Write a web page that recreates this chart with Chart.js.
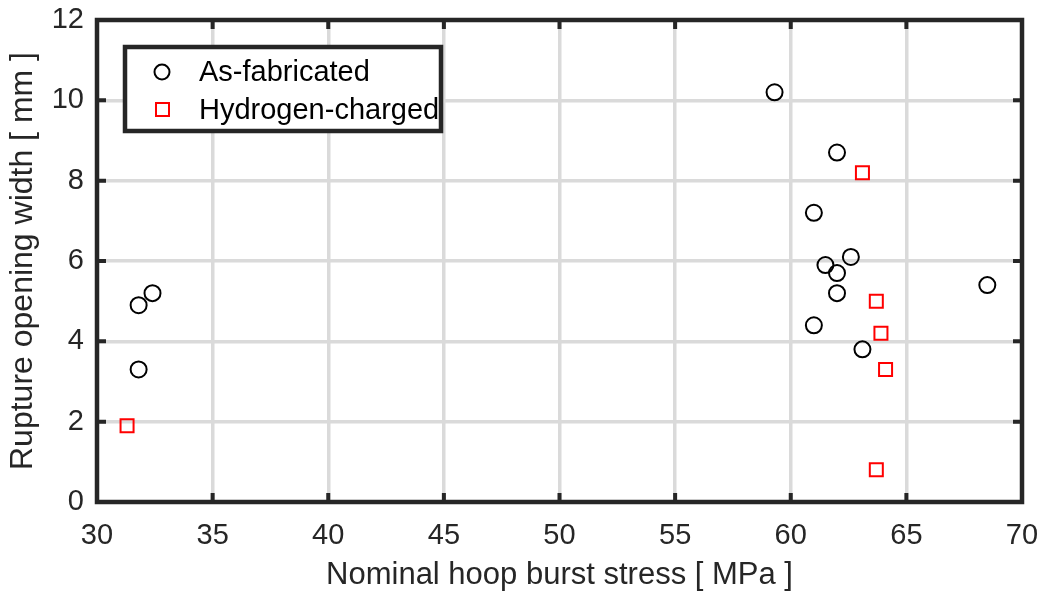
<!DOCTYPE html>
<html>
<head>
<meta charset="utf-8">
<script src="https://cdn.jsdelivr.net/npm/chart.js@4"></script>
<style>
  body { margin: 0; background: #fff; }
  #wrap { width: 1050px; height: 598px; }
</style>
</head>
<body>
<div id="wrap"><canvas id="myChart" width="1050" height="598"></canvas></div>
<script>
// data
const asFabStress = [31.8, 32.4, 31.8, 59.3, 62.0, 61.0, 62.6, 61.5, 62.0, 62.0, 61.0, 63.1, 68.5];
const asFabWidth  = [4.9, 5.2, 3.3, 10.2, 8.7, 7.2, 6.1, 5.9, 5.7, 5.2, 4.4, 3.8, 5.4];
const h2Stress = [31.3, 63.1, 63.7, 63.9, 64.1, 63.7];
const h2Width  = [1.9, 8.2, 5.0, 4.2, 3.3, 0.8];
const seriesNames = ['As-fabricated', 'Hydrogen-charged'];
const xTitle = 'Nominal hoop burst stress [ MPa ]';
const yTitle = 'Rupture opening width [ mm ]';

const toPoints = (xs, ys) => xs.map((x, i) => ({ x: x, y: ys[i] }));

const FONT = 'Liberation Sans, Arial, sans-serif';
const DARK = '#262626';

// box, inward ticks and the legend like matlab draws them
const framePlugin = {
  id: 'frame',
  afterDraw(chart) {
    const ctx = chart.ctx;
    const a = chart.chartArea;
    const xs = chart.scales.x, ys = chart.scales.y;
    ctx.save();
    ctx.strokeStyle = DARK;
    ctx.lineWidth = 4.5;
    ctx.strokeRect(a.left, a.top, a.right - a.left, a.bottom - a.top);
    ctx.lineWidth = 4;
    const tl = 9;
    xs.ticks.forEach(t => {
      const px = xs.getPixelForValue(t.value);
      ctx.beginPath();
      ctx.moveTo(px, a.bottom); ctx.lineTo(px, a.bottom - tl);
      ctx.moveTo(px, a.top); ctx.lineTo(px, a.top + tl);
      ctx.stroke();
    });
    ys.ticks.forEach(t => {
      const py = ys.getPixelForValue(t.value);
      ctx.beginPath();
      ctx.moveTo(a.left, py); ctx.lineTo(a.left + tl, py);
      ctx.moveTo(a.right, py); ctx.lineTo(a.right - tl, py);
      ctx.stroke();
    });

    // legend
    const lx = 125, ly = 47, lw = 316, lh = 84;
    ctx.fillStyle = '#fff';
    ctx.fillRect(lx, ly, lw, lh);
    ctx.lineWidth = 4.5;
    ctx.strokeStyle = DARK;
    ctx.strokeRect(lx, ly, lw, lh);
    ctx.lineWidth = 2;
    ctx.strokeStyle = '#000';
    ctx.beginPath();
    ctx.arc(162, 72, 7.5, 0, Math.PI * 2);
    ctx.stroke();
    ctx.strokeStyle = '#ff0000';
    ctx.strokeRect(156, 103, 13, 13);
    ctx.fillStyle = '#000';
    ctx.font = '29px ' + FONT;
    ctx.textBaseline = 'middle';
    ctx.textAlign = 'left';
    ctx.fillText(seriesNames[0], 199, 73);
    ctx.fillText(seriesNames[1], 199, 111);
    ctx.restore();
  }
};

// keep chart.js from reserving room for overhanging tick labels
const noPad = s => { s.paddingTop = 0; s.paddingBottom = 0; s.paddingLeft = 0; s.paddingRight = 0; };

const ctx = document.getElementById('myChart').getContext('2d');
new Chart(ctx, {
  type: 'scatter',
  data: {
    datasets: [
      {
        label: seriesNames[0],
        data: toPoints(asFabStress, asFabWidth),
        pointStyle: 'circle',
        pointRadius: 8,
        borderColor: '#000',
        backgroundColor: 'rgba(0,0,0,0)',
        borderWidth: 2
      },
      {
        label: seriesNames[1],
        data: toPoints(h2Stress, h2Width),
        pointStyle: 'rect',
        pointRadius: 9.2,
        borderColor: '#ff0000',
        backgroundColor: 'rgba(0,0,0,0)',
        borderWidth: 2
      }
    ]
  },
  options: {
    responsive: false,
    animation: false,
    layout: { padding: { left: 0, right: 28, top: 20, bottom: 0 } },
    plugins: {
      legend: { display: false },
      tooltip: { enabled: false }
    },
    scales: {
      x: {
        type: 'linear',
        min: 30, max: 70,
        ticks: { stepSize: 5, color: DARK, font: { family: FONT, size: 29 }, padding: 17 },
        grid: { color: '#dadada', lineWidth: 3.5, drawTicks: false },
        border: { display: false },
        title: { display: true, text: xTitle, color: DARK, font: { family: FONT, size: 31 }, padding: { top: 0 } },
        afterFit: s => { s.height = 96; noPad(s); }
      },
      y: {
        min: 0, max: 12,
        ticks: { stepSize: 2, color: DARK, font: { family: FONT, size: 29 }, padding: 13 },
        grid: { color: '#dadada', lineWidth: 3.5, drawTicks: false },
        border: { display: false },
        title: { display: true, text: yTitle, color: DARK, font: { family: FONT, size: 32 }, padding: { bottom: 2 } },
        afterFit: s => { s.width = 97; noPad(s); }
      }
    }
  },
  plugins: [framePlugin]
});
</script>
</body>
</html>
